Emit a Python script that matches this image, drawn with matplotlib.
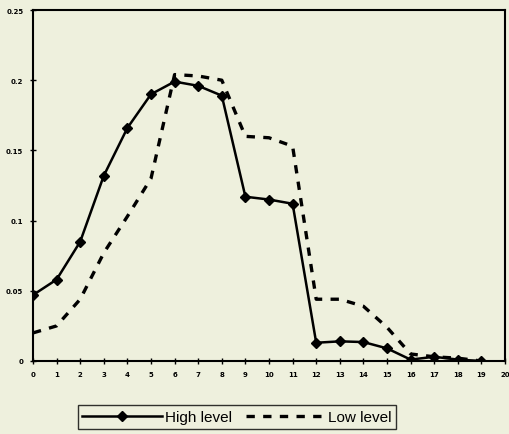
import matplotlib
matplotlib.use("Agg")
import matplotlib.pyplot as plt

x = list(range(20))
high_level = [0.047, 0.058, 0.085, 0.132, 0.166, 0.190, 0.199, 0.196, 0.189, 0.117,
              0.115, 0.112, 0.013, 0.014, 0.0135, 0.009, 0.001, 0.003, 0.001, 0.0]
low_level = [0.020, 0.025, 0.044, 0.077, 0.103, 0.130, 0.204, 0.203, 0.200, 0.160,
             0.159, 0.153, 0.044, 0.044, 0.039, 0.024, 0.005, 0.003, 0.002, 0.0]
x_ticks = list(range(21))
y_ticks = [0, 0.05, 0.1, 0.15, 0.2, 0.25]
y_tick_labels = ["0", "0.05", "0.1", "0.15", "0.2", "0.25"]

bg = "#eef0dd"
fig = plt.figure(figsize=(5.09, 4.35), dpi=100, facecolor=bg)
ax = fig.add_axes([33/509, 73/435, 472/509, 351/435], facecolor=bg)

ax.plot(x, high_level, color="black", lw=1.8, marker="D", markersize=5.5,
        label="High level")
ax.plot(x, low_level, color="black", lw=2.4, linestyle=(0, (2.5, 2.5)),
        label="Low level")

ax.set_xlim(0, 20)
ax.set_ylim(0, 0.25)
ax.set_xticks(x_ticks)
ax.set_xticklabels([str(t) for t in x_ticks])
ax.set_yticks(y_ticks)
ax.set_yticklabels(y_tick_labels)
for s in ax.spines.values():
    s.set_linewidth(1.5)
    s.set_color("black")
ax.tick_params(axis="both", direction="inout", length=4, width=1.0,
               labelsize=5, pad=5)
for lab in ax.get_xticklabels() + ax.get_yticklabels():
    lab.set_fontweight("bold")

leg = fig.legend(loc="center", bbox_to_anchor=(237/509, 1 - 418/435), ncol=2,
                 frameon=True, fancybox=False, edgecolor="black",
                 facecolor=bg, prop={"family": "Liberation Sans", "size": 11},
                 handlelength=5.2, columnspacing=0.9, handletextpad=0.2,
                 borderpad=0.3)
leg.get_frame().set_linewidth(1.0)

fig.savefig("out.png", dpi=100, facecolor=bg)
